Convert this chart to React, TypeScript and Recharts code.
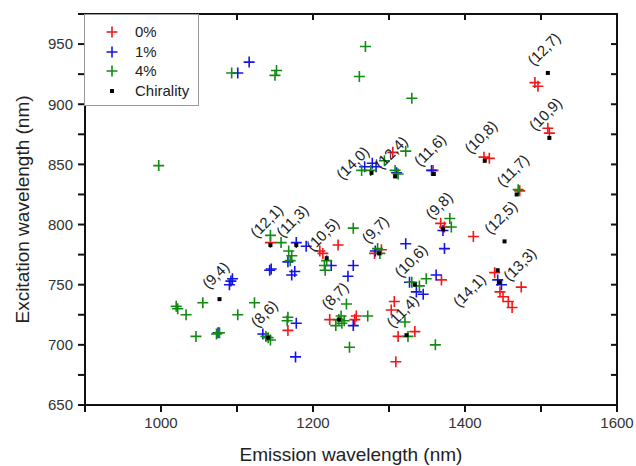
import React from 'react';
import { ScatterChart, Scatter, XAxis, YAxis, Legend, Label } from 'recharts';

const FONT = 'Arial, "Liberation Sans", Helvetica, sans-serif';

// x ticks / y ticks (nm)
const xTicks = [900, 1000, 1100, 1200, 1300, 1400, 1500, 1600];
const xLabelled = [1000, 1200, 1400, 1600];
const yTicks = [650, 675, 700, 725, 750, 775, 800, 825, 850, 875, 900, 925, 950, 975];

// 0% series (emission, excitation)
const red0: [number, number][] = [
  [1492, 918], [1496, 915], [1509, 880], [1511, 876], [1425, 856], [1432, 855],
  [1358, 845], [1472, 828], [1305, 860], [1368, 801], [1373, 798], [1411, 790],
  [1290, 779], [1233, 783], [1209, 778], [1213, 776], [1144, 785], [1369, 754],
  [1307, 736], [1303, 729], [1312, 707], [1334, 711], [1309, 686], [1257, 724],
  [1255, 721], [1222, 721], [1167, 712], [1439, 760], [1446, 744], [1450, 740],
  [1457, 736], [1462, 731], [1474, 748], [1281, 776],
];

// 1% series
const blue1: [number, number][] = [
  [1101, 926], [1116, 935], [1268, 848], [1278, 851], [1283, 848], [1310, 843],
  [1356, 845], [1371, 795], [1373, 780], [1282, 778], [1322, 784], [1253, 766],
  [1246, 757], [1336, 744], [1345, 742], [1362, 758], [1327, 752], [1443, 754],
  [1448, 750], [1253, 716], [1191, 782], [1178, 785], [1145, 763], [1143, 762],
  [1167, 769], [1176, 761], [1172, 758], [1224, 766], [1094, 755], [1090, 750],
  [1092, 753], [1075, 710], [1134, 709], [1178, 718], [1177, 690],
];

// 4% series
const green4: [number, number][] = [
  [1093, 926], [1152, 928], [1150, 924], [1269, 948], [1261, 923], [1330, 905],
  [997, 849], [1264, 845], [1276, 845], [1294, 853], [1322, 861], [1312, 842],
  [1308, 845], [1470, 829], [1380, 805], [1382, 798], [1253, 797], [1285, 780],
  [1288, 776], [1144, 791], [1158, 785], [1168, 778], [1172, 774], [1170, 770],
  [1218, 770], [1216, 762], [1215, 766], [1349, 755], [1340, 749], [1330, 752],
  [1321, 719], [1325, 707], [1361, 700], [1020, 732], [1022, 730], [1033, 725],
  [1055, 735], [1046, 707], [1073, 709], [1077, 710], [1101, 725], [1123, 735],
  [1141, 706], [1144, 704], [1138, 707], [1167, 723], [1166, 720], [1234, 721],
  [1238, 718], [1230, 716], [1241, 720], [1237, 724], [1244, 734], [1272, 724],
  [1248, 698],
];

// chirality assignments
const chiralLabels = [
  '(9,4)', '(8,6)', '(12,1)', '(11,3)', '(10,5)', '(8,7)', '(9,7)', '(14,0)', '(12,4)', '(11,6)',
  '(10,6)', '(11,4)', '(9,8)', '(10,8)', '(11,7)', '(12,5)', '(13,3)', '(14,1)', '(12,7)', '(10,9)',
];
const chiralX = [1077, 1141, 1144, 1178, 1218, 1234, 1287, 1277, 1308, 1359, 1334, 1323, 1371, 1426, 1468, 1452, 1443, 1445, 1509, 1511];
const chiralY = [738, 706, 783, 783, 772, 721, 776, 843, 840, 842, 750, 708, 796, 853, 825, 786, 762, 752, 926, 872];

const toPts = (arr: [number, number][]) => arr.map(([x, y]) => ({ x, y }));
const chirality = chiralLabels.map((label, i) => ({ x: chiralX[i], y: chiralY[i], label }));

const RED = '#f01818';
const BLUE = '#1414e6';
const GREEN = '#138a13';

const X_MIN = 900;
const X_MAX = 1600;
const Y_MIN = 650;
const Y_MAX = 975;

// chart box
const W = 636;
const H = 466;
const M = { top: 14, right: 19, bottom: 0, left: 0 };
const Y_AXIS_W = 85;
const X_AXIS_H = 61;
const plot = {
  left: M.left + Y_AXIS_W,
  top: M.top,
  right: W - M.right,
  bottom: H - M.bottom - X_AXIS_H,
};

// label offsets that differ from the default up-left placement
const labelShift: Record<string, [number, number]> = {
  '(14,0)': [-18, -9],
  '(14,1)': [-29, 9],
  '(13,3)': [23, -5],
};

const cross = (color: string) => (props: any) => {
  const { cx, cy } = props;
  if (cx == null || cy == null) return <g />;
  return (
    <path
      d={`M${cx - 5.5},${cy}H${cx + 5.5}M${cx},${cy - 5.5}V${cy + 5.5}`}
      stroke={color}
      strokeWidth={1.6}
      fill="none"
    />
  );
};

const chiralShape = (props: any) => {
  const { cx, cy, payload } = props;
  if (cx == null || cy == null) return <g />;
  const [dx, dy] = labelShift[payload.label] ?? [-3, -23];
  const tx = cx + dx;
  const ty = cy + dy;
  return (
    <g>
      <rect x={cx - 2} y={cy - 2} width={4} height={4} fill="#000" />
      <text
        x={tx}
        y={ty}
        textAnchor="middle"
        dominantBaseline="middle"
        fontSize={15}
        fontFamily={FONT}
        fill="#222"
        transform={`rotate(-45, ${tx}, ${ty})`}
      >
        {payload.label}
      </text>
    </g>
  );
};

const legendRows = [
  { name: '0%', color: RED },
  { name: '1%', color: BLUE },
  { name: '4%', color: GREEN },
  { name: 'Chirality', color: '#000' },
];

const LegendBox = () => (
  <div
    style={{
      width: 115,
      height: 92,
      boxSizing: 'border-box',
      border: '1px solid #999',
      background: '#fff',
      position: 'relative',
      fontFamily: FONT,
      fontSize: 15,
      color: '#222',
    }}
  >
    {legendRows.map((r, i) => (
      <div key={r.name} style={{ position: 'absolute', left: 0, top: 8 + i * 19.5, height: 18, display: 'flex', alignItems: 'center' }}>
        <svg width={50} height={18}>
          {r.name === 'Chirality' ? (
            <rect x={25} y={7} width={4} height={4} fill="#000" />
          ) : (
            <path d="M21.5,9H32.5M27,3.5V14.5" stroke={r.color} strokeWidth={1.6} />
          )}
        </svg>
        <span style={{ lineHeight: '18px' }}>{r.name}</span>
      </div>
    ))}
  </div>
);

// bottom tick label; also draws the top side of the box with an inward tick
const XTick = (props: any) => {
  const { x, y, payload, index } = props;
  const v = payload.value;
  const inner = v !== X_MIN && v !== X_MAX;
  return (
    <g>
      {index === 0 && (
        <rect x={plot.left - 1} y={plot.top - 1} width={plot.right - plot.left + 2} height={2} fill="#111" />
      )}
      {inner && <rect x={x - 1} y={plot.top} width={2} height={6} fill="#111" />}
      {xLabelled.includes(v) && (
        <text x={x} y={y} dy="0.71em" textAnchor="middle" fontSize={15} fontFamily={FONT} fill="#333">
          {v}
        </text>
      )}
    </g>
  );
};

// left tick label; also draws the right side of the box with an inward tick
const YTick = (props: any) => {
  const { x, y, payload, index } = props;
  const v = payload.value;
  const inner = v !== Y_MIN && v !== Y_MAX;
  return (
    <g>
      {index === 0 && (
        <rect x={plot.right - 1} y={plot.top - 1} width={2} height={plot.bottom - plot.top + 1} fill="#111" />
      )}
      {inner && <rect x={plot.right - 6} y={y - 1} width={6} height={2} fill="#111" />}
      {v % 50 === 0 && v < Y_MAX && (
        <text x={x} y={y} dy="0.355em" textAnchor="end" fontSize={15} fontFamily={FONT} fill="#333">
          {v}
        </text>
      )}
    </g>
  );
};

const axisStroke = { stroke: '#111', strokeWidth: 2 };

export default function App() {
  return (
    <div style={{ position: 'absolute', left: 0, top: 0, width: W, height: H, background: '#fff' }}>
      <ScatterChart width={W} height={H} margin={M}>
        <XAxis
          type="number"
          dataKey="x"
          domain={[X_MIN, X_MAX]}
          ticks={xTicks}
          interval={0}
          height={X_AXIS_H}
          axisLine={axisStroke}
          tickLine={axisStroke}
          tickSize={7}
          tickMargin={5}
          tick={<XTick />}
        >
          <Label
            content={(p: any) => {
              const vb = p.viewBox;
              return (
                <text x={vb.x + vb.width / 2} y={461} textAnchor="middle" fontSize={19} fontFamily={FONT} fill="#222">
                  Emission wavelength (nm)
                </text>
              );
            }}
          />
        </XAxis>
        <YAxis
          type="number"
          dataKey="y"
          domain={[Y_MIN, Y_MAX]}
          ticks={yTicks}
          interval={0}
          width={Y_AXIS_W}
          axisLine={axisStroke}
          tickLine={axisStroke}
          tickSize={7}
          tickMargin={5}
          tick={<YTick />}
        >
          <Label
            content={(p: any) => {
              const vb = p.viewBox;
              const cy = vb.y + vb.height / 2;
              return (
                <text x={24} y={cy} textAnchor="middle" dominantBaseline="middle" fontSize={19} fontFamily={FONT} fill="#222" transform={`rotate(-90, 24, ${cy})`}>
                  Excitation wavelength (nm)
                </text>
              );
            }}
          />
        </YAxis>
        <Legend
          layout="vertical"
          align="center"
          verticalAlign="middle"
          content={() => <LegendBox />}
          wrapperStyle={{ position: 'absolute', left: plot.left - 1, top: plot.top, width: 115, height: 92 }}
        />
        <Scatter name="0%" data={toPts(red0)} shape={cross(RED)} isAnimationActive={false} />
        <Scatter name="1%" data={toPts(blue1)} shape={cross(BLUE)} isAnimationActive={false} />
        <Scatter name="4%" data={toPts(green4)} shape={cross(GREEN)} isAnimationActive={false} />
        <Scatter name="Chirality" data={chirality} shape={chiralShape} isAnimationActive={false} />
      </ScatterChart>
    </div>
  );
}
